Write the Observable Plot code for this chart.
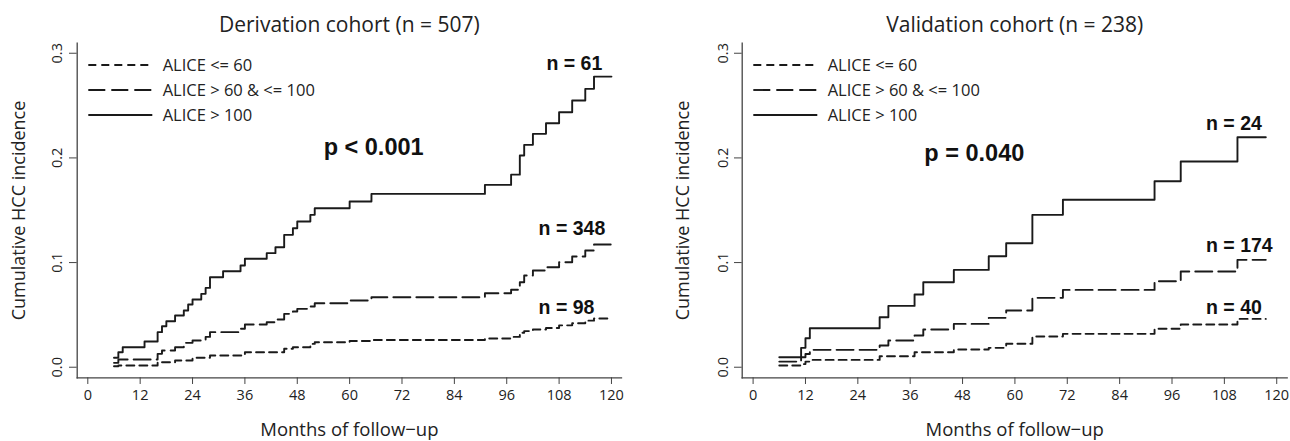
<!DOCTYPE html>
<html><head><meta charset="utf-8">
<script src="https://cdn.jsdelivr.net/npm/d3@7"></script>
<script src="https://cdn.jsdelivr.net/npm/@observablehq/plot@0.6"></script>
<style>
body{margin:0;background:#fff;}
#wrap{position:relative;width:1290px;height:441px;display:flex;}
#wrap svg{display:block;}
</style></head><body><div id="wrap"></div>
<script>
// ---- data ----
const xTicks = [0,12,24,36,48,60,72,84,96,108,120];
const yTicks = [0,0.1,0.2,0.3];
const legendLabels = ["ALICE <= 60", "ALICE > 60 & <= 100", "ALICE > 100"];

// Derivation cohort
const derivTitle = "Derivation cohort (n = 507)";
const derivLowT  = [6,7,16,20,24,28,36,45,47,51,52,60,65,91,97,99,100,102,105,108,111,114,116,120];
const derivLowV  = [0.001,0.0016,0.0048,0.0064,0.009,0.0112,0.0143,0.0176,0.0191,0.0223,0.0239,0.025,0.026,0.0275,0.029,0.033,0.0345,0.036,0.0375,0.04,0.042,0.0445,0.0465,0.0465];
const derivMidT  = [6,7,16,17,20,22,24,27,28,35,36,41,43,45,47,48,51,52,60,65,91,97,99,100,102,105,108,111,114,116,120];
const derivMidV  = [0.0042,0.0074,0.0128,0.016,0.0191,0.0233,0.0255,0.029,0.0335,0.0367,0.0408,0.043,0.0456,0.051,0.0532,0.0558,0.058,0.0612,0.0637,0.0669,0.0707,0.074,0.0812,0.0876,0.0924,0.0955,0.1003,0.1058,0.1115,0.1172,0.1172];
const derivHighT = [6,7,8,13,16,17,18,20,22,23,24,26,27,28,31,35,36,41,43,45,47,48,51,52,60,65,91,97,99,100,102,105,108,111,114,116,120];
const derivHighV = [0.009,0.0143,0.0191,0.0246,0.0335,0.0392,0.044,0.0494,0.0542,0.0599,0.0647,0.0701,0.0758,0.086,0.0917,0.0972,0.1036,0.109,0.1147,0.1265,0.1328,0.1392,0.1456,0.1519,0.1583,0.1656,0.1742,0.184,0.2023,0.2125,0.223,0.2331,0.2436,0.2548,0.266,0.2777,0.2777];
const derivNotes = ["n = 61","n = 348","n = 98"];
const derivNoteX = [105.1,103.3,103.3];
const derivNoteY = [0.29,0.132,0.0573];
const derivP = "p < 0.001";
const derivPX = 65.5, derivPY = 0.21;

// Validation cohort
const validTitle = "Validation cohort (n = 238)";
const validLowT  = [6,11,12,13,29,37,46,54,58,64,71,92,98,111,117.5];
const validLowV  = [0.0016,0.003,0.0054,0.007,0.0105,0.0143,0.0169,0.0185,0.0225,0.0293,0.0319,0.0367,0.0408,0.0462,0.0462];
const validMidT  = [6,11,12,13,29,31,37,39,46,54,58,64,71,92,98,111,117.5];
const validMidV  = [0.0054,0.0096,0.0127,0.0166,0.0207,0.0255,0.0303,0.036,0.0414,0.0472,0.0542,0.0663,0.0739,0.0822,0.0914,0.1026,0.1026];
const validHighT = [6,11,12,13,29,31,37,39,46,54,58,64,71,92,98,111,117.5];
const validHighV = [0.0096,0.0185,0.0277,0.0373,0.0478,0.0586,0.0695,0.0812,0.093,0.106,0.1185,0.1456,0.160,0.1777,0.1965,0.2197,0.2197];
const validNotes = ["n = 24","n = 174","n = 40"];
const validNoteX = [103.8,103.8,103.8];
const validNoteY = [0.2325,0.1156,0.0573];
const validP = "p = 0.040";
const validPX = 50.7, validPY = 0.204;

// ---- drawing ----
const dashes = ["8,5","17,6",null];
const humanist = "'Open Sans', 'Noto Sans', sans-serif";
const arial = "'Liberation Sans', Arial, sans-serif";

function panel(o){
  const series = [[o.lowT,o.lowV],[o.midT,o.midV],[o.highT,o.highV]];
  const notes = o.notes.map((t,i)=>({t, x:o.noteX[i], y:o.noteY[i]}));
  const marks = [
    Plot.frame({anchor:"left", stroke:"#444", strokeWidth:1.3}),
    Plot.frame({anchor:"bottom", stroke:"#444", strokeWidth:1.3}),
    Plot.axisX({ticks:xTicks, tickSize:6.7, tickPadding:5, label:null, stroke:"#444", fill:"#222", fontSize:14.5, fontFamily:humanist}),
    Plot.axisY({ticks:yTicks, tickFormat:d3.format(".1f"), tickSize:7.7, tickPadding:7, tickRotate:-90, label:null, stroke:"#444", fill:"#222", fontSize:14.5, fontFamily:humanist}),
    ...series.map(([T,V],k)=>Plot.line(T.map((t,i)=>({t, v:V[i]})), {x:"t", y:"v", curve:"step-after", stroke:"#1a1a1a", strokeWidth:1.9, strokeDasharray:dashes[k]})),
    Plot.text(notes, {x:"x", y:"y", text:"t", textAnchor:"start", fontSize:19.5, fontWeight:"bold", fontFamily:arial, fill:"#111"}),
    Plot.text([o.p], {x:()=>o.px, y:()=>o.py, text:d=>d, fontSize:23.5, fontWeight:"bold", fontFamily:arial, fill:"#111"}),
    Plot.text([o.title], {frameAnchor:"top", dy:-17.7, lineAnchor:"middle", textAnchor:"middle", text:d=>d, fontSize:21, fontFamily:humanist, fill:"#222"}),
    Plot.text(["Months of follow\u2212up"], {frameAnchor:"bottom", dy:52.7, lineAnchor:"middle", textAnchor:"middle", text:d=>d, fontSize:18.5, fontFamily:humanist, fill:"#222"}),
    Plot.text(["Cumulative HCC incidence"], {frameAnchor:"left", dx:o.ylabDx, rotate:-90, lineAnchor:"middle", textAnchor:"middle", text:d=>d, fontSize:18, fontFamily:humanist, fill:"#222"})
  ];
  const svg = Plot.plot({
    width:645, height:441,
    marginLeft:o.ml, marginRight:o.mr, marginTop:42.7, marginBottom:63.7,
    x:{domain:o.xdom},
    y:{domain:[-0.0101,0.3096]},
    style:{fontFamily:humanist, color:"#222", background:"#fff", overflow:"visible"},
    marks
  });
  // legend inside the plot area
  const g = d3.select(svg).append("g").attr("fill", "#222").attr("text-anchor", "start");
  legendLabels.forEach((lab,k)=>{
    const y = 65 + k*25;
    g.append("line").attr("x1", o.ml+11.6).attr("x2", o.ml+75.6).attr("y1", y).attr("y2", y)
      .attr("stroke", "#1a1a1a").attr("stroke-width", 1.9).attr("stroke-dasharray", dashes[k]);
    g.append("text").attr("x", o.ml+86).attr("y", y).attr("dy", "0.35em").attr("text-anchor", "start")
      .style("font-family", humanist).style("font-size", "16.5px").text(lab);
  });
  return svg;
}

const wrap = document.getElementById("wrap");
wrap.appendChild(panel({title:derivTitle, lowT:derivLowT, lowV:derivLowV, midT:derivMidT, midV:derivMidV, highT:derivHighT, highV:derivHighV,
  notes:derivNotes, noteX:derivNoteX, noteY:derivNoteY, p:derivP, px:derivPX, py:derivPY,
  ml:76.7, mr:24, xdom:[-2.43,122.3], ylabDx:-58.2}));
wrap.appendChild(panel({title:validTitle, lowT:validLowT, lowV:validLowV, midT:validMidT, midV:validMidV, highT:validHighT, highV:validHighV,
  notes:validNotes, noteX:validNoteX, noteY:validNoteY, p:validP, px:validPX, py:validPY,
  ml:96.7, mr:3.3, xdom:[-2.5,122.4], ylabDx:-58.7}));
</script></body></html>
